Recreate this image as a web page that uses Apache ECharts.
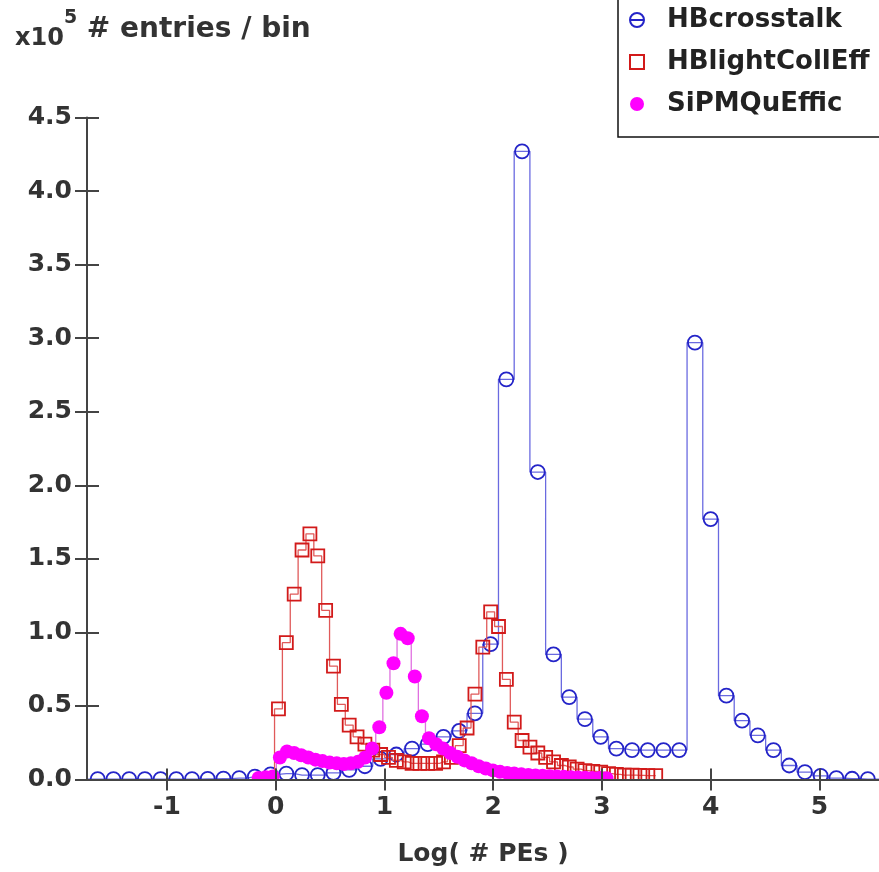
<!DOCTYPE html>
<html>
<head>
<meta charset="utf-8">
<script src="https://cdn.jsdelivr.net/npm/echarts@6/dist/echarts.min.js"></script>
<style>
  html, body { margin: 0; padding: 0; background: #fff; }
  #chart { width: 879px; height: 872px; }
</style>
</head>
<body>
<div id="chart"></div>
<script>
// Histograms of log10(#PEs), in units of 1e5 entries per bin.
// Each histogram: centre of its first bin, bin width, then per-bin contents.
const crosstalkFirst = -1.781;
const crosstalkWidth = 0.1445;
const crosstalk = [
  0.003, 0.003, 0.003, 0.003, 0.003, 0.003, 0.003, 0.003, 0.004, 0.006,
  0.010, 0.020, 0.035, 0.040, 0.030, 0.030, 0.045, 0.065, 0.090, 0.140,
  0.170, 0.210, 0.240, 0.290, 0.330, 0.450, 0.920, 2.720, 4.270, 2.090,
  0.850, 0.560, 0.410, 0.290, 0.210, 0.200, 0.200, 0.200, 0.200, 2.970,
  1.770, 0.570, 0.400, 0.300, 0.200, 0.095, 0.050, 0.025, 0.010, 0.005,
  0.003, 0.003
];

const lightCollFirst = -0.0468;
const lightCollWidth = 0.07226;
const lightColl = [
  0.000, 0.480, 0.930, 1.260, 1.560, 1.670, 1.520, 1.150, 0.770, 0.510,
  0.370, 0.290, 0.240, 0.200, 0.170, 0.150, 0.130, 0.120, 0.110, 0.110,
  0.110, 0.110, 0.120, 0.150, 0.230, 0.350, 0.580, 0.900, 1.140, 1.040,
  0.680, 0.390, 0.265, 0.220, 0.180, 0.150, 0.120, 0.095, 0.085, 0.070,
  0.060, 0.055, 0.050, 0.040, 0.035, 0.030, 0.030, 0.028, 0.027, 0.026
];

const quEffFirst = -0.1572;
const quEffWidth = 0.06528;
const quEff = [
  0.010, 0.015, 0.020, 0.150, 0.190, 0.180, 0.165, 0.150, 0.135, 0.125,
  0.115, 0.110, 0.105, 0.110, 0.120, 0.150, 0.210, 0.355, 0.590, 0.790,
  0.990, 0.960, 0.700, 0.430, 0.280, 0.240, 0.210, 0.180, 0.155, 0.130,
  0.110, 0.090, 0.075, 0.062, 0.052, 0.045, 0.040, 0.035, 0.031, 0.028,
  0.025, 0.022, 0.020, 0.018, 0.016, 0.014, 0.012, 0.011, 0.010, 0.009
];

const seriesNames = ['HBcrosstalk', 'HBlightCollEff', 'SiPMQuEffic'];
const xTickValues = [-1, 0, 1, 2, 3, 4, 5];
const xRange = [-1.735, 5.547];
const yRange = [0, 4.5];
const yStep = 0.5;

const FONT = 'DejaVu Sans';
const INK = '#333';
const AXIS = '#444';

// open circle crossed by a horizontal bar, as used for the crosstalk markers
const crossedCircle = 'path://M1,10A9,9 0 1,1 19,10A9,9 0 1,1 1,10ZM1,10L19,10';

function binPoints(first, width, values) {
  return values.map((v, i) => [first + i * width, v]);
}

function hideEmpty(size) {
  return (val) => (val[1] > 0 ? size : 0);
}

const tickLabel = { fontFamily: FONT, fontSize: 25, fontWeight: 'bold', color: INK };

const chart = echarts.init(document.getElementById('chart'), null, { renderer: 'canvas' });

chart.setOption({
  animation: false,
  backgroundColor: '#fff',
  title: {
    left: 10,
    top: 4,
    text: '{m|x10}{e|5}{t| # entries / bin}',
    textStyle: {
      rich: {
        m: { fontFamily: FONT, fontSize: 24, fontWeight: 'bold', color: INK, verticalAlign: 'bottom', lineHeight: 42 },
        e: { fontFamily: FONT, fontSize: 19, fontWeight: 'bold', color: INK, verticalAlign: 'top', lineHeight: 42 },
        t: { fontFamily: FONT, fontSize: 28, fontWeight: 'bold', color: INK, verticalAlign: 'middle', lineHeight: 42 }
      }
    }
  },
  legend: {
    orient: 'vertical',
    left: 618,
    top: -6,
    padding: [12, 12, 19, 11],
    itemWidth: 14,
    itemHeight: 14,
    itemGap: 14,
    borderColor: '#111',
    borderWidth: 1.5,
    backgroundColor: '#fff',
    selectedMode: false,
    textStyle: { fontFamily: FONT, fontSize: 26, fontWeight: 'bold', color: '#222', lineHeight: 28, padding: [0, 0, 0, 18] },
    data: [
      { name: seriesNames[0], icon: crossedCircle },
      { name: seriesNames[1], icon: 'rect' },
      { name: seriesNames[2], icon: 'circle' }
    ]
  },
  grid: { left: 87, right: 0, top: 117.5, bottom: 92.5, containLabel: false },
  graphic: [
    // masks the lower halves of markers that sit on the baseline
    { type: 'rect', zlevel: 1, silent: true, shape: { x: 88.5, y: 780.6, width: 800, height: 12 }, style: { fill: '#fff' } }
  ],
  xAxis: [
    {
      type: 'value', min: xRange[0], max: xRange[1], zlevel: 2,
      name: 'Log( # PEs )', nameLocation: 'middle', nameGap: 62,
      nameTextStyle: { fontFamily: FONT, fontSize: 25, fontWeight: 'bold', color: INK },
      axisLine: { show: true, onZero: false, lineStyle: { color: AXIS, width: 2 } },
      axisTick: { show: true, length: 11, customValues: xTickValues, lineStyle: { color: AXIS, width: 2 } },
      axisLabel: Object.assign({ margin: 15, customValues: xTickValues }, tickLabel),
      splitLine: { show: false }
    },
    {
      type: 'value', min: xRange[0], max: xRange[1], zlevel: 2, position: 'bottom',
      axisLine: { show: false, onZero: false },
      axisTick: { show: true, inside: true, length: 11, customValues: xTickValues, lineStyle: { color: AXIS, width: 2 } },
      axisLabel: { show: false },
      splitLine: { show: false }
    }
  ],
  yAxis: [
    {
      type: 'value', min: yRange[0], max: yRange[1], interval: yStep, zlevel: 2,
      axisLine: { show: true, onZero: false, lineStyle: { color: AXIS, width: 2 } },
      axisTick: { show: true, length: 12, lineStyle: { color: AXIS, width: 2 } },
      axisLabel: Object.assign({ margin: 15, formatter: (v) => v.toFixed(1) }, tickLabel),
      splitLine: { show: false }
    },
    {
      type: 'value', min: yRange[0], max: yRange[1], interval: yStep, zlevel: 2, position: 'left',
      axisLine: { show: false, onZero: false },
      axisTick: { show: true, inside: true, length: 12, lineStyle: { color: AXIS, width: 2 } },
      axisLabel: { show: false },
      splitLine: { show: false }
    }
  ],
  series: [
    {
      name: seriesNames[0], type: 'line', step: 'middle', z: 2,
      data: binPoints(crosstalkFirst, crosstalkWidth, crosstalk),
      symbol: 'circle', symbolSize: hideEmpty(14),
      itemStyle: { color: 'rgba(0,0,0,0)', borderColor: '#2424c8', borderWidth: 1.8 },
      lineStyle: { color: '#6a6ae0', width: 1.3 },
      emphasis: { disabled: true }
    },
    {
      name: seriesNames[1], type: 'line', step: 'middle', z: 3,
      data: binPoints(lightCollFirst, lightCollWidth, lightColl),
      symbol: 'rect', symbolSize: hideEmpty(13),
      itemStyle: { color: 'rgba(0,0,0,0)', borderColor: '#d21a1a', borderWidth: 1.8 },
      lineStyle: { color: '#e05a5a', width: 1.3 },
      emphasis: { disabled: true }
    },
    {
      name: seriesNames[2], type: 'line', step: 'middle', z: 4,
      data: binPoints(quEffFirst, quEffWidth, quEff),
      symbol: 'circle', symbolSize: hideEmpty(14),
      itemStyle: { color: '#ff00ff', borderWidth: 0 },
      lineStyle: { color: '#e070e0', width: 1.3 },
      emphasis: { disabled: true }
    }
  ]
});
</script>
</body>
</html>
